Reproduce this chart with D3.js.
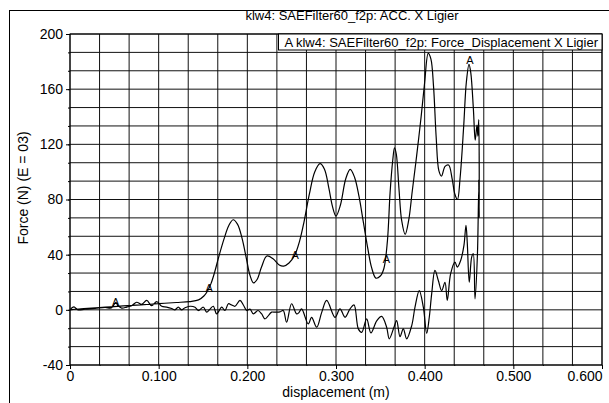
<!DOCTYPE html>
<html><head><meta charset="utf-8">
<script src="https://cdn.jsdelivr.net/npm/d3@7"></script>
<style>
body{margin:0;background:#fff;}
svg{display:block;font-family:"Liberation Sans",Arial,Helvetica,sans-serif;}
</style>
</head><body>
<svg id="c" width="609" height="403"></svg>
<script>
const titleText = "klw4: SAEFilter60_f2p: ACC. X Ligier";
const legendText = "A klw4: SAEFilter60_f2p: Force_Displacement X Ligier";
const xLabel = "displacement (m)";
const yLabel = "Force (N) (E = 03)";

const xTickValues = [0, 0.1, 0.2, 0.3, 0.4, 0.5, 0.6];
const xTickLabels = ["0", "0.100", "0.200", "0.300", "0.400", "0.500", "0.600"];
const yTickValues = [-40, 0, 40, 80, 120, 160, 200];
const yTickLabels = ["-40", "0", "40", "80", "120", "160", "200"];

// loading branch (displacement increasing)
const loadDisp = [0, 0.01, 0.02, 0.04, 0.06, 0.08, 0.10, 0.12, 0.135, 0.145, 0.151, 0.155, 0.159, 0.163, 0.168, 0.174, 0.179, 0.184, 0.189, 0.194, 0.199, 0.203, 0.207, 0.211, 0.216, 0.222, 0.229, 0.236, 0.241, 0.247, 0.253, 0.259, 0.264, 0.270, 0.276, 0.282, 0.287, 0.292, 0.296, 0.300, 0.305, 0.311, 0.316, 0.321, 0.326, 0.331, 0.336, 0.340, 0.345, 0.350, 0.354, 0.358, 0.361, 0.364, 0.366, 0.368, 0.371, 0.374, 0.378, 0.382, 0.386, 0.391, 0.396, 0.400, 0.404, 0.407, 0.410, 0.413, 0.416, 0.419, 0.423, 0.427, 0.431, 0.434, 0.437, 0.440, 0.444, 0.447, 0.450, 0.452, 0.455, 0.457, 0.459, 0.460, 0.461, 0.4615, 0.461, 0.4615, 0.461, 0.4595];
const loadForce = [0, 0.6, 1.0, 1.9, 2.8, 3.6, 4.5, 5.3, 6.0, 7.2, 10, 13.5, 19, 27, 39, 52, 61, 65.3, 62, 52, 37, 25, 19.5, 22, 31, 39, 37, 32.5, 31.7, 34, 39, 50, 64, 84, 100, 106, 102, 88, 75, 68, 76, 95, 101.8, 96, 82, 63, 44, 31, 23, 24.5, 30, 50, 85, 108.5, 117.5, 113, 88, 65, 54.7, 65, 86, 112, 140, 165, 186, 182, 162, 125, 101, 97, 104, 105, 95, 84, 80, 96, 133, 165, 178, 172, 145, 123, 134, 126, 138, 67, 94, 68, 88, 40];

// rebound branch (displacement decreasing)
const reboundDisp = [0.4568, 0.4548, 0.4530, 0.4503, 0.4481, 0.4466, 0.4443, 0.4406, 0.4368, 0.4342, 0.4293, 0.4255, 0.4229, 0.4192, 0.4154, 0.4116, 0.4079, 0.4052, 0.4023, 0.3985, 0.3939, 0.3891, 0.3854, 0.3797, 0.3759, 0.3722, 0.3684, 0.3654, 0.3601, 0.3571, 0.3515, 0.3459, 0.3394, 0.3346, 0.3290, 0.3252, 0.3203, 0.3158, 0.3102, 0.3045, 0.2989, 0.2895, 0.2838, 0.2782, 0.2725, 0.2687, 0.2612, 0.2582, 0.2556, 0.2499, 0.2443, 0.2405, 0.2368, 0.2312, 0.2274, 0.2199, 0.2162, 0.2120, 0.2068, 0.2030, 0.1993, 0.1955, 0.1917, 0.1861, 0.1824, 0.1786, 0.1748, 0.1711, 0.1654, 0.1616, 0.1579, 0.1541, 0.1504, 0.1447, 0.1410, 0.1353, 0.1297, 0.1259, 0.1221, 0.1184, 0.1147, 0.1090, 0.1034, 0.0978, 0.0921, 0.0865, 0.0808, 0.0752, 0.0696, 0.0640, 0.0583, 0.0542, 0.0516, 0.0471, 0.0395, 0.0282, 0.0169, 0.0090, 0.0045, 0.0023, 0];
const reboundForce = [8, 40.7, 38.2, 20, 48, 61.3, 46.7, 35.8, 31, 34.6, 26.2, 6.8, 20, 14, 21.3, 28.6, 11.6, -5.4, -17, 1.9, 14, 1.9, -11.4, -21, -13.8, -19.4, -7.8, -12.6, -21, -12.6, -4.8, -8, -16.7, -6.5, -16.3, -13.8, 3.6, 0.7, -5.4, 0.7, -5.4, 6.8, -2, -12.6, -5.4, -10.2, 0.7, -2, -2.9, 4.4, -9, -0.5, -1.5, -1.7, -1.7, -6.5, -3, -0.5, -2.9, 0.5, -0.5, 3.5, 6.8, 2.6, 3.5, 4.4, -0.5, 1.9, -2.9, 2.6, 0.5, -1.7, 1.9, -0.5, 1.9, 2.6, 1.5, 0, 1.9, 0, 1.0, 2.0, 2.6, 6, 3, 6.8, 4, 5.5, 3, 2, 1.2, 3, 5.5, 1.5, 1.7, 1.0, 0.5, 0, 2.2, 1.5, 0];

// "A" curve markers
const markerDisp = [0.0516, 0.157, 0.254, 0.357, 0.451];
const markerForce = [5.5, 16, 40, 37, 181];

const svg = d3.select("#c");
const L = 70, R = 602, T = 34, B = 365;

const x = d3.scaleLinear().domain([0, 0.6]).range([L, R]);
const y = d3.scaleLinear().domain([-40, 200]).range([B, T]);

// outer frame
svg.append("rect").attr("x", 9.5).attr("y", 10.5).attr("width", 620).attr("height", 420)
  .attr("fill", "#fff").attr("stroke", "#000").attr("stroke-width", 1);

// plot background
svg.append("rect").attr("x", L).attr("y", T).attr("width", R - L).attr("height", B - T).attr("fill", "#fff");

// grid
const xGrid = d3.range(0, 19).map(i => i * 0.6 / 18);
const yGrid = d3.range(0, 19).map(i => -40 + i * 240 / 18);
const g = svg.append("g");
g.selectAll("line.vg").data(xGrid).join("line").attr("class", "vg")
  .attr("x1", d => x(d)).attr("x2", d => x(d)).attr("y1", T).attr("y2", B)
  .attr("stroke", "#111").attr("stroke-width", 1);
g.selectAll("line.hg").data(yGrid).join("line").attr("class", "hg")
  .attr("x1", L).attr("x2", R).attr("y1", d => y(d)).attr("y2", d => y(d))
  .attr("stroke", "#111").attr("stroke-width", 1);

// minor ticks
svg.append("g").attr("transform", `translate(${L},0)`)
  .call(d3.axisLeft(y).tickValues(yGrid).tickSize(2).tickFormat(""))
  .call(s => s.select(".domain").remove());
svg.append("g").attr("transform", `translate(0,${B})`)
  .call(d3.axisBottom(x).tickValues(xGrid).tickSize(1).tickFormat(""))
  .call(s => s.select(".domain").remove());

// major axes
const ya = svg.append("g").attr("transform", `translate(${L},0)`)
  .call(d3.axisLeft(y).tickValues(yTickValues).tickSize(4).tickPadding(3)
    .tickFormat((d, i) => yTickLabels[i]));
ya.select(".domain").remove();
ya.selectAll("text").attr("font-size", 14).attr("fill", "#000").attr("font-family", "Liberation Sans, Arial, sans-serif");

const xa = svg.append("g").attr("transform", `translate(0,${B})`)
  .call(d3.axisBottom(x).tickValues(xTickValues).tickSize(4).tickPadding(2)
    .tickFormat((d, i) => xTickLabels[i]));
xa.select(".domain").remove();
xa.selectAll("text").attr("font-size", 14).attr("fill", "#000").attr("font-family", "Liberation Sans, Arial, sans-serif");
xa.selectAll(".tick").filter((d, i) => i === xTickValues.length - 1).select("text")
  .attr("text-anchor", "end").attr("x", 0);

// plot border
svg.append("rect").attr("x", L).attr("y", T).attr("width", R - L).attr("height", B - T)
  .attr("fill", "none").attr("stroke", "#000").attr("stroke-width", 1);

// curve
const pts = loadDisp.map((d, i) => [d, loadForce[i]])
  .concat(reboundDisp.map((d, i) => [d, reboundForce[i]]));
const line = d3.line().x(d => x(d[0])).y(d => y(d[1])).curve(d3.curveCatmullRom.alpha(0.5));
svg.append("path").attr("d", line(pts)).attr("fill", "none")
  .attr("stroke", "#000").attr("stroke-width", 1.2).attr("stroke-linejoin", "round");

// markers
svg.selectAll("text.mk").data(markerDisp).join("text").attr("class", "mk")
  .attr("x", d => x(d)).attr("y", (d, i) => y(markerForce[i]) + 4)
  .attr("text-anchor", "middle").attr("font-size", 11).text("A");

// title
svg.append("text").attr("x", 352).attr("y", 20).attr("text-anchor", "middle")
  .attr("font-size", 13).text(titleText);

// legend box
const lg = svg.append("g");
lg.append("rect").attr("x", 278.5).attr("y", T).attr("width", R - 278.5).attr("height", 16)
  .attr("fill", "#fff").attr("stroke", "#000").attr("stroke-width", 1);
lg.append("text").attr("x", R - 4).attr("y", T + 12.5).attr("text-anchor", "end")
  .attr("font-size", 13).text(legendText);

// axis labels
svg.append("text").attr("x", (L + R) / 2).attr("y", 397).attr("text-anchor", "middle")
  .attr("font-size", 14).text(xLabel);
svg.append("text").attr("transform", "translate(28,188) rotate(-90)").attr("text-anchor", "middle")
  .attr("font-size", 14).text(yLabel);
</script>
</body></html>
